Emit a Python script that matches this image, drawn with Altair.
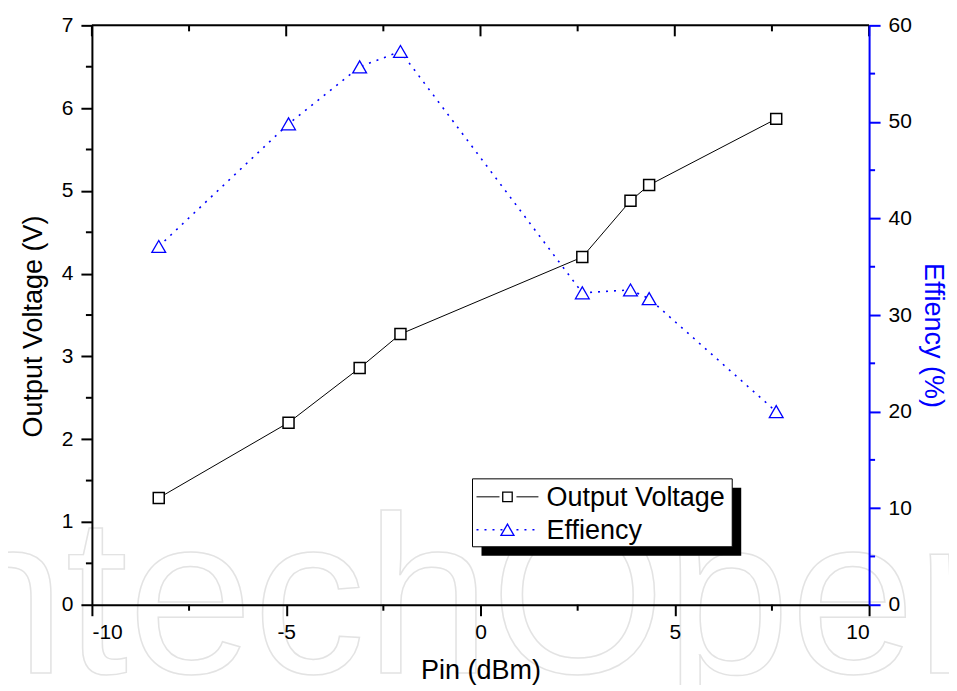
import altair as alt
import pandas as pd

# ---- data ----
pin_dbm = [-8.28, -4.94, -3.11, -2.06, 2.62, 3.86, 4.34, 7.61]
output_voltage = [1.29, 2.20, 2.86, 3.27, 4.20, 4.88, 5.07, 5.87]
efficiency = [37.1, 49.8, 55.7, 57.3, 32.3, 32.6, 31.7, 20.0]

x_major = [-10, -5, 0, 5, 10]
x_minor = [-7.5, -2.5, 2.5, 7.5]
y_left_major = [0, 1, 2, 3, 4, 5, 6, 7]
y_left_minor = [0.5, 1.5, 2.5, 3.5, 4.5, 5.5, 6.5]
y_right_major = [0, 10, 20, 30, 40, 50, 60]
y_right_minor = [5, 15, 25, 35, 45, 55]

legend_labels = ["Output Voltage", "Effiency"]

FONT = "Liberation Sans"
BLUE = "#0000FF"
W, H = 778, 580

df = pd.DataFrame({"pin": pin_dbm, "voltage": output_voltage, "eff": efficiency})
xmaj = pd.DataFrame({"t": x_major})
xmin = pd.DataFrame({"t": x_minor})
ylmin = pd.DataFrame({"t": y_left_minor})
yrmin = pd.DataFrame({"t": y_right_minor})
one = pd.DataFrame({"a": [0]})

x_scale = alt.Scale(domain=[-10, 10], nice=False, zero=False)
yl_scale = alt.Scale(domain=[0, 7], nice=False)
yr_scale = alt.Scale(domain=[0, 60], nice=False)

LBL = "'' + datum.value"

x_axis = alt.Axis(values=x_major, title="Pin (dBm)", tickSize=11, tickWidth=2,
                  domainWidth=2, domainColor="black", tickColor="black",
                  labelFontSize=21, titleFontSize=27, labelPadding=6,
                  titlePadding=15, titleFontWeight="normal", labelFont=FONT,
                  titleFont=FONT, grid=False, zindex=1, labelColor="black",
                  labelExpr=LBL)
yl_axis = alt.Axis(values=y_left_major, title="Output Voltage (V)", tickSize=11,
                   tickWidth=2, domainWidth=2, domainColor="black", tickColor="black",
                   labelFontSize=21, titleFontSize=27, labelPadding=8,
                   titlePadding=14, titleFontWeight="normal", labelFont=FONT,
                   titleFont=FONT, grid=False, zindex=1, labelColor="black",
                   titleY=301, labelExpr=LBL)
yr_axis = alt.Axis(values=y_right_major, title="Effiency (%)", orient="right",
                   tickSize=11, tickWidth=2, domainWidth=2, domainColor=BLUE,
                   tickColor=BLUE, labelColor="black", titleColor=BLUE,
                   labelFontSize=21, titleFontSize=27, labelPadding=8,
                   titlePadding=7, titleFontWeight="normal", labelFont=FONT,
                   titleFont=FONT, grid=False, zindex=1, titleY=310,
                   labelExpr=LBL)

X = alt.X("pin:Q", scale=x_scale, axis=x_axis)

# watermark
watermark = alt.Chart(one).mark_text(
    text="IntechOpen", font=FONT, fontSize=225, align="left", baseline="alphabetic",
    fill="white", fillOpacity=0, stroke="#e3e3e3", strokeWidth=1.5
).encode(x=alt.value(-214), y=alt.value(648))

v_line = alt.Chart(df).mark_line(color="black", strokeWidth=1).encode(
    x=X, y=alt.Y("voltage:Q", scale=yl_scale, axis=yl_axis))
v_pts = alt.Chart(df).mark_point(shape="square", size=121, filled=True, fill="white",
                                 stroke="black", strokeWidth=1.5, opacity=1).encode(
    x=X, y=alt.Y("voltage:Q", scale=yl_scale, axis=yl_axis))
yl_minor = alt.Chart(ylmin).mark_rule(color="black", strokeWidth=2).encode(
    y=alt.Y("t:Q", scale=yl_scale, axis=yl_axis), x=alt.value(-6), x2=alt.value(0))

# x minor ticks (bottom) and top ticks
xb_minor = alt.Chart(xmin).mark_rule(color="black", strokeWidth=2).encode(
    x=alt.X("t:Q", scale=x_scale, axis=x_axis), y=alt.value(H), y2=alt.value(H + 6))
xt_major = alt.Chart(xmaj).mark_rule(color="black", strokeWidth=2).encode(
    x=alt.X("t:Q", scale=x_scale, axis=x_axis), y=alt.value(0), y2=alt.value(11))
xt_minor = alt.Chart(xmin).mark_rule(color="black", strokeWidth=2).encode(
    x=alt.X("t:Q", scale=x_scale, axis=x_axis), y=alt.value(0), y2=alt.value(6))
top_border = alt.Chart(one).mark_rule(color="black", strokeWidth=2).encode(
    x=alt.value(0), x2=alt.value(W), y=alt.value(0))

left = alt.layer(v_line, yl_minor, xb_minor, xt_major, xt_minor, top_border, v_pts)

e_line = alt.Chart(df).mark_line(color=BLUE, strokeWidth=1.6, strokeDash=[2, 6]).encode(
    x=X, y=alt.Y("eff:Q", scale=yr_scale, axis=yr_axis))
e_pts = alt.Chart(df).mark_point(shape="triangle-up", size=190, filled=True, fill="white",
                                 stroke=BLUE, strokeWidth=1.3, opacity=1).encode(
    x=X, y=alt.Y("eff:Q", scale=yr_scale, axis=yr_axis))
yr_minor = alt.Chart(yrmin).mark_rule(color=BLUE, strokeWidth=2).encode(
    y=alt.Y("t:Q", scale=yr_scale, axis=yr_axis), x=alt.value(W), x2=alt.value(W + 6))

right = alt.layer(e_line, yr_minor, e_pts)

# ---- legend (drawn box with shadow) ----
lx0, lx1, ly0, ly1 = 381, 641, 454, 522
shadow = alt.Chart(one).mark_rect(color="black").encode(
    x=alt.value(lx0 + 9), x2=alt.value(lx1 + 9), y=alt.value(ly0 + 9), y2=alt.value(ly1 + 9))
box = alt.Chart(one).mark_rect(fill="white", stroke="black", strokeWidth=1).encode(
    x=alt.value(lx0), x2=alt.value(lx1), y=alt.value(ly0), y2=alt.value(ly1))
r1, r2 = 472, 505
leg_v_l1 = alt.Chart(one).mark_rule(color="black", strokeWidth=1).encode(
    x=alt.value(385), x2=alt.value(408), y=alt.value(r1))
leg_v_l2 = alt.Chart(one).mark_rule(color="black", strokeWidth=1).encode(
    x=alt.value(425), x2=alt.value(447), y=alt.value(r1))
leg_v_pt = alt.Chart(one).mark_point(shape="square", size=90, fill="white", filled=True,
                                     stroke="black", strokeWidth=1.3, opacity=1).encode(
    x=alt.value(416), y=alt.value(r1))
leg_e_l = alt.Chart(one).mark_rule(color=BLUE, strokeWidth=1.6, strokeDash=[2, 6]).encode(
    x=alt.value(385), x2=alt.value(447), y=alt.value(r2))
leg_e_pt = alt.Chart(one).mark_point(shape="triangle-up", size=170, fill="white", filled=True,
                                     stroke=BLUE, strokeWidth=1.3, opacity=1).encode(
    x=alt.value(416), y=alt.value(r2))
leg_t1 = alt.Chart(one).mark_text(text=legend_labels[0], font=FONT, fontSize=27,
                                  align="left", baseline="middle", color="black").encode(
    x=alt.value(455), y=alt.value(r1 + 1))
leg_t2 = alt.Chart(one).mark_text(text=legend_labels[1], font=FONT, fontSize=27,
                                  align="left", baseline="middle", color="black").encode(
    x=alt.value(455), y=alt.value(r2 + 1))

legend = alt.layer(shadow, box, leg_v_l1, leg_v_l2, leg_e_l, leg_v_pt, leg_e_pt, leg_t1, leg_t2)

chart = alt.layer(watermark, left, right, legend).resolve_scale(y="independent").properties(
    width=W, height=H,
    autosize=alt.AutoSizeParams(type="none"),
    padding={"left": 84, "top": 17, "right": 80, "bottom": 80},
).configure_view(stroke=None).configure(background="white")

chart.save("out.html", embed_options={"renderer": "svg", "actions": False})
